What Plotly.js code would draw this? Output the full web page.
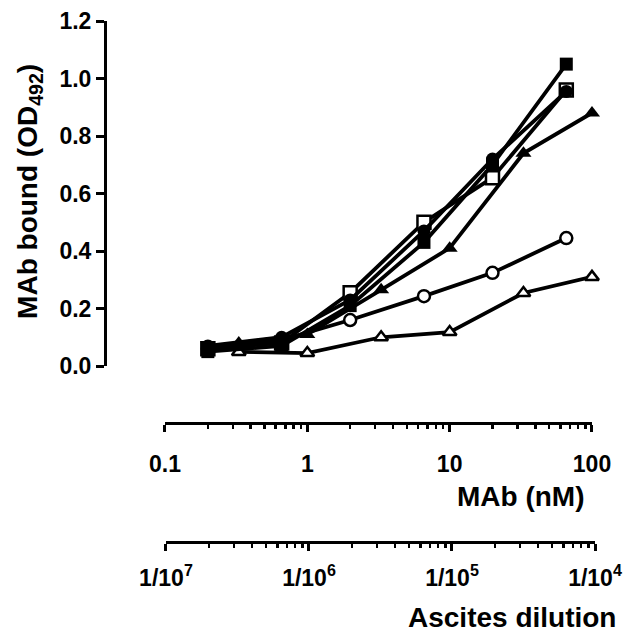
<!DOCTYPE html>
<html>
<head>
<meta charset="utf-8">
<script src="https://cdn.plot.ly/plotly-3.0.1.min.js"></script>
<style>html,body{margin:0;padding:0;background:#fff;}#chart{width:628px;height:634px;}</style>
</head>
<body>
<div id="chart"></div>
<script>
// MAb concentrations (nM)
var concA = [0.2, 0.66, 2, 6.6, 20, 66];
var concB = [0.33, 1, 3.3, 10, 33, 100];
// OD492 values
var openSquare   = [0.06, 0.08, 0.255, 0.50, 0.655, 0.96];
var filledSquare = [0.05, 0.07, 0.21, 0.43, 0.70, 1.05];
var filledCircle = [0.07, 0.10, 0.23, 0.47, 0.72, 0.955];
var filledTri    = [0.08, 0.11, 0.265, 0.41, 0.74, 0.88];
var openCircle   = [0.06, 0.09, 0.16, 0.243, 0.324, 0.445];
var openTri      = [0.049, 0.045, 0.10, 0.118, 0.254, 0.31];
// tick labels
var mabTicks = [0.1, 1, 10, 100];
var mabLabels = ['0.1', '1', '10', '100'];
var dilTicks = [1e-7, 1e-6, 1e-5, 1e-4];
var dilLabels = ['1/10<sup>7</sup>', '1/10<sup>6</sup>', '1/10<sup>5</sup>', '1/10<sup>4</sup>'];
var yTicks = [0, 0.2, 0.4, 0.6, 0.8, 1.0, 1.2];

function minorVals(lo, hi) {
  var v = [];
  for (var e = lo; e < hi; e++) for (var k = 2; k <= 9; k++) v.push(k * Math.pow(10, e));
  return v;
}

function tr(x, y, sym, size, fill) {
  return {
    x: x, y: y, type: 'scatter', mode: 'lines+markers', xaxis: 'x', yaxis: 'y',
    cliponaxis: false,
    line: {color: '#000', width: 3.8},
    marker: {symbol: sym, size: size, color: fill, line: {color: '#000', width: fill === '#fff' ? 2.5 : 0}},
    showlegend: false, hoverinfo: 'x+y'
  };
}

var data = [
  tr(concB, openTri, 'triangle-up', 12, '#fff'),
  tr(concA, openCircle, 'circle', 12, '#fff'),
  tr(concB, filledTri, 'triangle-up', 14, '#000'),
  tr(concA, openSquare, 'square', 13, '#fff'),
  tr(concA, filledSquare, 'square', 13, '#000'),
  tr(concA, filledCircle, 'circle', 13, '#000'),
  {x: [1e-6], y: [null], xaxis: 'x2', yaxis: 'y', type: 'scatter', mode: 'markers', showlegend: false, hoverinfo: 'skip'}
];

var tickFont = {family: 'Liberation Sans, Arial, sans-serif', size: 23, color: '#000', weight: 'bold'};
var titleFont = {family: 'Liberation Sans, Arial, sans-serif', size: 28, color: '#000', weight: 'bold'};

var layout = {
  width: 628, height: 634,
  margin: {l: 105, r: 28, t: 21, b: 92},
  paper_bgcolor: '#fff', plot_bgcolor: 'rgba(0,0,0,0)',
  showlegend: false,
  xaxis: {
    type: 'log', range: [-1, 2], domain: [0.1212, 0.9838],
    anchor: 'free', position: 0.2284,
    showline: true, linecolor: '#000', linewidth: 3,
    showgrid: false, zeroline: false,
    tickmode: 'array', tickvals: mabTicks, ticktext: mabLabels,
    ticks: 'outside', ticklen: 7, tickwidth: 3, tickcolor: '#000',
    ticklabelstandoff: 12,
    minor: {tickmode: 'array', tickvals: minorVals(-1, 2), ticks: 'outside', ticklen: 4, tickwidth: 2.5, tickcolor: '#000', showgrid: false},
    tickfont: tickFont
  },
  xaxis2: {
    type: 'log', range: [-7, -4], domain: [0.1232, 0.9899],
    anchor: 'free', position: 0,
    showline: true, linecolor: '#000', linewidth: 3,
    showgrid: false, zeroline: false,
    tickmode: 'array', tickvals: dilTicks, ticktext: dilLabels,
    ticks: 'outside', ticklen: 7, tickwidth: 3, tickcolor: '#000',
    ticklabelstandoff: 7,
    minor: {tickmode: 'array', tickvals: minorVals(-7, -4), ticks: 'outside', ticklen: 4, tickwidth: 2.5, tickcolor: '#000', showgrid: false},
    tickfont: tickFont
  },
  yaxis: {
    range: [0, 1.2], domain: [0.3378, 1],
    anchor: 'free', position: 0,
    showline: true, linecolor: '#000', linewidth: 3,
    showgrid: false, zeroline: false,
    tickmode: 'array', tickvals: yTicks, ticktext: yTicks.map(function (v) { return v.toFixed(1); }),
    ticks: 'outside', ticklen: 8, tickwidth: 3, tickcolor: '#000',
    tickfont: tickFont
  },
  annotations: [
    {text: 'MAb (nM)', xref: 'paper', yref: 'paper', x: 0.9737, y: 0.0864, xanchor: 'right', yanchor: 'middle', showarrow: false, font: titleFont},
    {text: 'Ascites dilution', xref: 'paper', yref: 'paper', x: 1.036, y: -0.144, xanchor: 'right', yanchor: 'middle', showarrow: false, font: titleFont},
    {text: 'MAb bound (OD<sub>492</sub>)', xref: 'paper', yref: 'paper', x: -0.1515, y: 0.672, xanchor: 'center', yanchor: 'middle', textangle: -90, showarrow: false, font: titleFont}
  ]
};

Plotly.newPlot('chart', data, layout, {displayModeBar: false, staticPlot: true});
</script>
</body>
</html>
